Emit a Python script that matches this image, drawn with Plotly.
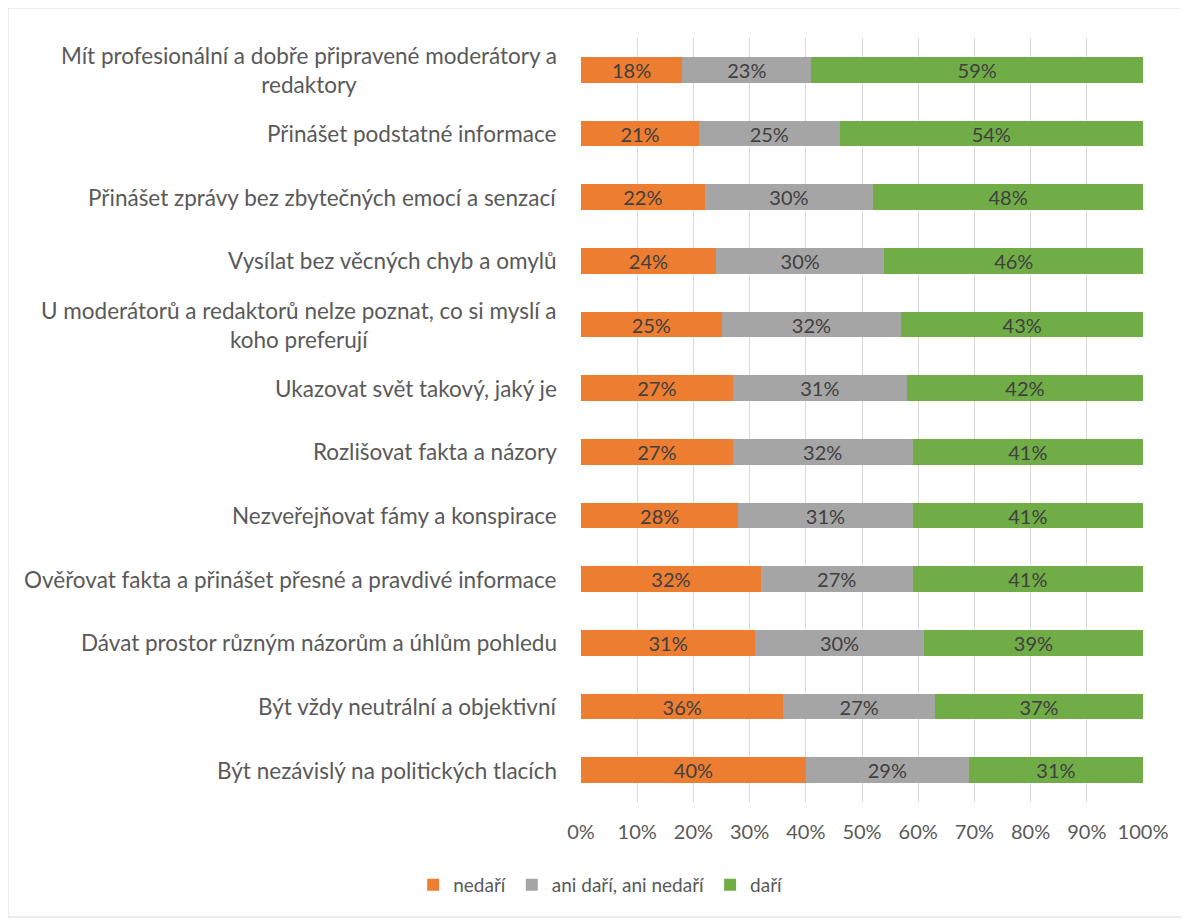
import plotly.graph_objects as go

categories = [
    "Mít profesionální a dobře připravené moderátory a<br>redaktory",
    "Přinášet podstatné informace",
    "Přinášet zprávy bez zbytečných emocí a senzací",
    "Vysílat bez věcných chyb a omylů",
    "U moderátorů a redaktorů nelze poznat, co si myslí a<br>koho preferují",
    "Ukazovat svět takový, jaký je",
    "Rozlišovat fakta a názory",
    "Nezveřejňovat fámy a konspirace",
    "Ověřovat fakta a přinášet přesné a pravdivé informace",
    "Dávat prostor různým názorům a úhlům pohledu",
    "Být vždy neutrální a objektivní",
    "Být nezávislý na politických tlacích",
]
nedari = [18, 21, 22, 24, 25, 27, 27, 28, 32, 31, 36, 40]
ani = [23, 25, 30, 30, 32, 31, 32, 31, 27, 30, 27, 29]
dari = [59, 54, 48, 46, 43, 42, 41, 41, 41, 39, 37, 31]
series_names = ["nedaří", "ani daří, ani nedaří", "daří"]
tick_vals = [0, 10, 20, 30, 40, 50, 60, 70, 80, 90, 100]
tick_text = [f"{v}%" for v in tick_vals]

colors = ["#ED7D31", "#A5A5A5", "#70AD47"]
FONT = "Lato, 'Open Sans', sans-serif"
ids = list(range(len(categories)))

fig = go.Figure()
for name, vals, col in zip(series_names, [nedari, ani, dari], colors):
    fig.add_trace(go.Bar(
        y=ids, x=vals, name=name, orientation="h",
        marker=dict(color=col, line=dict(width=0)),
        text=[f"{v}%" for v in vals], textposition="inside",
        insidetextanchor="middle", constraintext="none",
        textfont=dict(color="#404040", size=20, family=FONT),
        hoverinfo="skip",
    ))

for i, c in enumerate(categories):
    fig.add_annotation(
        x=0, y=i, xref="paper", yref="y", text=c, showarrow=False,
        xanchor="right", yanchor="middle", align="center", xshift=-22,
        font=dict(size=22.5, color="#595959", family=FONT),
    )

fig.add_shape(type="rect", xref="paper", yref="paper",
              x0=-1.0196, x1=1.077, y0=-0.1505, y1=1.0393,
              line=dict(color="#D9D9D9", width=1), layer="below")

fig.update_layout(
    width=1189, height=919,
    margin=dict(l=573, r=54, t=30, b=125),
    barmode="stack", bargap=0.6,
    plot_bgcolor="white", paper_bgcolor="white",
    font=dict(family=FONT, color="#595959"),
    showlegend=True,
    legend=dict(orientation="h", x=0.035, xanchor="center", y=-0.1086,
                yanchor="middle", font=dict(size=19, color="#595959"),
                traceorder="normal", itemwidth=30),
    xaxis=dict(range=[0, 100], tickvals=tick_vals, ticktext=tick_text,
               showgrid=True, gridcolor="#D9D9D9", gridwidth=1.3,
               zeroline=False, showline=False,
               tickfont=dict(size=20, color="#595959"), ticks="",
               ticklabelstandoff=16),
    yaxis=dict(autorange="reversed", showticklabels=False, showgrid=False,
               zeroline=False, tickvals=ids, range=[11.5, -0.5]),
)

fig.write_html("out.html")
